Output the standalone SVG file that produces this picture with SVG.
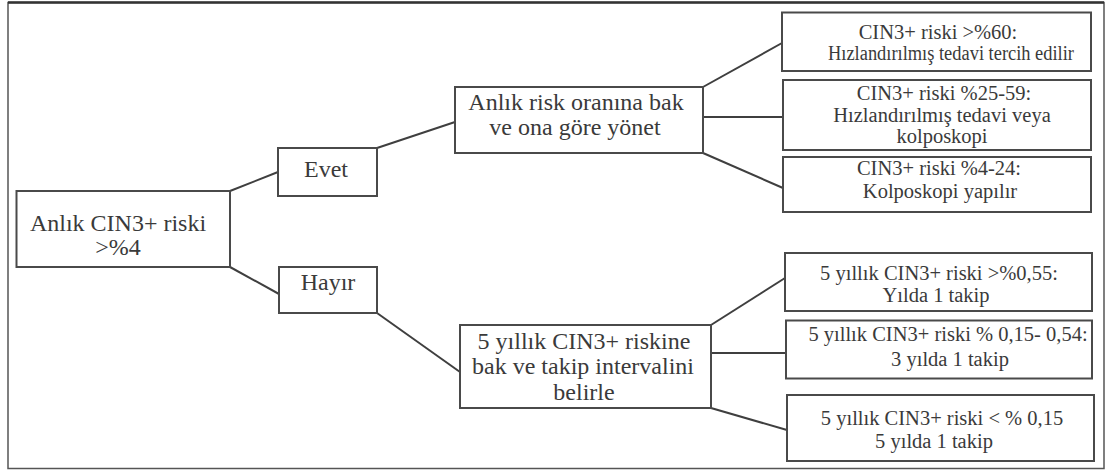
<svg xmlns="http://www.w3.org/2000/svg" width="1109" height="470" viewBox="0 0 1109 470">
<style>
.box{fill:#fff;stroke:#4a4a4a;stroke-width:2}
.ln{stroke:#3f3f3f;stroke-width:2;fill:none}
text{font-family:'Liberation Serif','Times New Roman',Tinos,'DejaVu Serif',serif;fill:#3a3a3a;text-anchor:middle}
.L{font-size:24px}
.S{font-size:20.5px}
</style>
<rect x="0" y="0" width="1109" height="470" fill="#fff"/>
<g id="frame">
<rect x="8" y="2.5" width="1096" height="466" fill="none" stroke="#555" stroke-width="1.5"/>
<line x1="8" y1="2.5" x2="1104" y2="2.5" stroke="#333" stroke-width="2.5"/>
</g>
<g id="connectors">
<line class="ln" x1="230" y1="191" x2="278" y2="172"/>
<line class="ln" x1="230" y1="267" x2="279" y2="294"/>
<line class="ln" x1="377" y1="148" x2="455" y2="122"/>
<line class="ln" x1="377" y1="313" x2="460" y2="372"/>
<line class="ln" x1="703" y1="87" x2="782" y2="43"/>
<line class="ln" x1="703" y1="117" x2="783" y2="117"/>
<line class="ln" x1="703" y1="153" x2="783" y2="188"/>
<line class="ln" x1="711" y1="325" x2="785" y2="278"/>
<line class="ln" x1="711" y1="353" x2="786" y2="353"/>
<line class="ln" x1="711" y1="408" x2="787" y2="430"/>
</g>
<g id="root">
<rect class="box" x="16.5" y="191" width="213.5" height="76"/>
<text class="L" x="118" y="230.5">Anlık CIN3+ riski</text>
<text class="L" x="118" y="255">&gt;%4</text>
</g>
<g id="evet">
<rect class="box" x="278" y="148" width="99" height="48"/>
<text class="L" x="326" y="177">Evet</text>
</g>
<g id="hayir">
<rect class="box" x="279" y="267" width="98" height="46"/>
<text class="L" x="328" y="290">Hayır</text>
</g>
<g id="anlik-risk">
<rect class="box" x="455" y="87" width="248" height="66"/>
<text class="L" x="576" y="110">Anlık risk oranına bak</text>
<text class="L" x="575" y="135">ve ona göre yönet</text>
</g>
<g id="bes-yillik">
<rect class="box" x="460" y="325" width="251" height="83"/>
<text class="L" x="584" y="349">5 yıllık CIN3+ riskine</text>
<text class="L" x="583" y="374">bak ve takip intervalini</text>
<text class="L" x="584" y="400">belirle</text>
</g>
<g id="r60">
<rect class="box" x="782" y="12.5" width="309" height="58.5"/>
<text class="S" x="938" y="38.5">CIN3+ riski &gt;%60:</text>
<text class="S" x="951" y="60" textLength="246" lengthAdjust="spacingAndGlyphs">Hızlandırılmış tedavi tercih edilir</text>
</g>
<g id="r25">
<rect class="box" x="783" y="80" width="308" height="70"/>
<text class="S" x="944" y="100">CIN3+ riski %25-59:</text>
<text class="S" x="942" y="122">Hızlandırılmış tedavi veya</text>
<text class="S" x="942" y="143">kolposkopi</text>
</g>
<g id="r4">
<rect class="box" x="783" y="157" width="308" height="55"/>
<text class="S" x="939" y="175">CIN3+ riski %4-24:</text>
<text class="S" x="940" y="198">Kolposkopi yapılır</text>
</g>
<g id="f055">
<rect class="box" x="785" y="253" width="307" height="58"/>
<text class="S" x="939" y="280">5 yıllık CIN3+ riski &gt;%0,55:</text>
<text class="S" x="936" y="302">Yılda 1 takip</text>
</g>
<g id="f015">
<rect class="box" x="786" y="320.5" width="306" height="58"/>
<text class="S" x="948" y="341">5 yıllık CIN3+ riski % 0,15- 0,54:</text>
<text class="S" x="950" y="366">3 yılda 1 takip</text>
</g>
<g id="flt">
<rect class="box" x="787" y="395" width="307" height="66"/>
<text class="S" x="942" y="425">5 yıllık CIN3+ riski &lt; % 0,15</text>
<text class="S" x="934" y="448">5 yılda 1 takip</text>
</g>
</svg>
